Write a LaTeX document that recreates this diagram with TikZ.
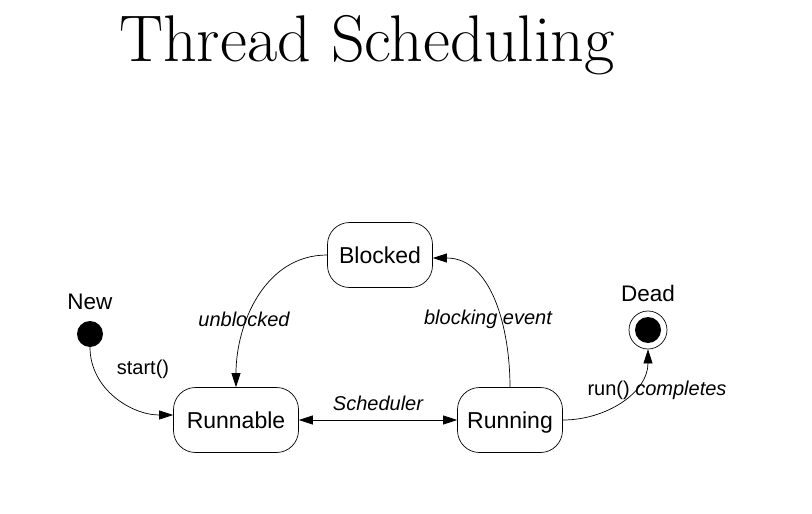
\documentclass[tikz,border=0pt]{standalone}
\usepackage{fontspec}
\newfontfamily\sansf{Liberation Sans}
\usetikzlibrary{arrows.meta}
\begin{document}
\begin{tikzpicture}[x=1pt,y=-1pt,
  state/.style={draw,rounded corners=22pt,minimum height=65pt,text height=16.5pt,text depth=0pt,font=\sansf\fontsize{23}{27}\selectfont,line width=0.7pt},
  lbl/.style={font=\sansf\fontsize{20}{24}\selectfont},
  ilbl/.style={font=\sansf\itshape\fontsize{20}{24}\selectfont},
  tip/.tip={Triangle[length=14pt,width=9pt]},
  conn/.style={line width=0.7pt,-tip},
  dot/.style={circle,fill=black,inner sep=0pt,minimum size=26pt}]
\useasboundingbox (0,0) rectangle (812,514);
\node[font=\fontsize{66}{70}\selectfont] (title) at (367,45) {Thread Scheduling};
\node[state,minimum width=105pt] (blocked) at (380,255) {Blocked};
\node[state,minimum width=125pt] (runnable) at (236,420) {Runnable};
\node[state,minimum width=105pt] (running) at (510,420) {Running};
\node[dot] (new) at (90,334) {};
\node[font=\sansf\fontsize{22.5}{26}\selectfont] (newl) at (90,302) {New};
\node[circle,draw,line width=0.7pt,inner sep=0pt,minimum size=38pt] (dead) at (648,330) {};
\node[dot] (deadin) at (648,330) {};
\node[font=\sansf\fontsize{22.5}{26}\selectfont] (deadl) at (648,293) {Dead};
\draw[conn] (new.south) to[out=-90,in=180] (runnable.west |- 0,415);
\node[lbl] (startl) at (143,369) {start()};
\draw[conn] (blocked.west) to[out=180,in=90] (runnable.north);
\node[ilbl] (unbl) at (244,319) {unblocked};
\draw[conn] (running.north) to[out=90,in=0] (blocked.east |- 0,258);
\node[ilbl] (blev) at (488,319) {blocking event};
\draw[line width=0.7pt,tip-tip] (runnable.east) -- (running.west);
\node[ilbl] (sched) at (378,403) {Scheduler};
\draw[conn] (running.east) to[out=0,in=-90] (dead.south);
\node[lbl] (runc) at (657,390) {run() \textit{completes}};
\end{tikzpicture}
\end{document}
